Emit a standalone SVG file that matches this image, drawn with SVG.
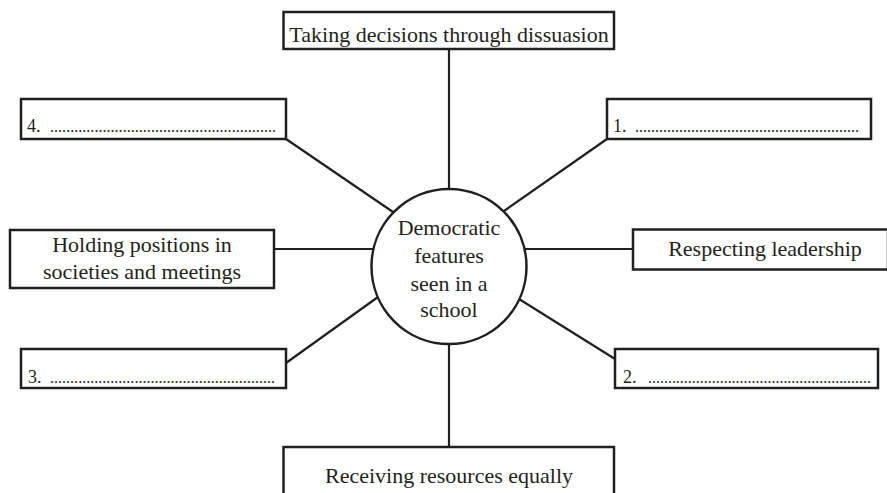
<svg xmlns="http://www.w3.org/2000/svg" width="887" height="493" viewBox="0 0 887 493">
<style>
.box{fill:#fff;stroke:#231f20;stroke-width:2.5}
.ln{stroke:#231f20;stroke-width:2.2;fill:none}
.t{font-family:"Liberation Serif","Times New Roman",serif;font-size:22px;fill:#231f20}
.c{text-anchor:middle}
.n{font-family:"Liberation Serif","Times New Roman",serif;font-size:18px;fill:#231f20}
.d{font-family:"Liberation Serif","Times New Roman",serif;font-size:16px;fill:#231f20}
</style>
<rect width="887" height="493" fill="#fff"/>
<g id="connectors">
<line class="ln" x1="449" y1="49" x2="449" y2="189"/>
<line class="ln" x1="449" y1="344" x2="449" y2="447"/>
<line class="ln" x1="274" y1="249" x2="373" y2="249"/>
<line class="ln" x1="525" y1="249" x2="633" y2="249"/>
<line class="ln" x1="286" y1="139" x2="393" y2="212"/>
<line class="ln" x1="607" y1="139" x2="504" y2="211"/>
<line class="ln" x1="286" y1="363" x2="378" y2="297"/>
<line class="ln" x1="615" y1="359" x2="519" y2="299"/>
</g>
<g id="center">
<circle cx="449" cy="266.5" r="77.5" fill="#fff" stroke="#231f20" stroke-width="2.5"/>
<text class="t c" x="449" y="235">Democratic</text>
<text class="t c" x="449" y="263">features</text>
<text class="t c" x="449" y="291">seen in a</text>
<text class="t c" x="449" y="317">school</text>
</g>
<g id="top">
<rect class="box" x="283.5" y="12" width="330.5" height="37"/>
<text class="t c" x="449" y="42">Taking decisions through dissuasion</text>
</g>
<g id="bottom">
<rect class="box" x="283.5" y="447" width="330.5" height="60"/>
<text class="t c" x="449" y="483">Receiving resources equally</text>
</g>
<g id="left">
<rect class="box" x="10" y="230" width="264" height="58"/>
<text class="t c" x="142" y="252">Holding positions in</text>
<text class="t c" x="142" y="279">societies and meetings</text>
</g>
<g id="right">
<rect class="box" x="633" y="229.5" width="255" height="40"/>
<text class="t c" x="765" y="256">Respecting leadership</text>
</g>
<g id="item4">
<rect class="box" x="21" y="99" width="265" height="40"/>
<text class="n" x="27" y="132">4.</text>
<text class="d" x="50" y="132" textLength="226" lengthAdjust="spacing">........................................................</text>
</g>
<g id="item1">
<rect class="box" x="607" y="99" width="264" height="40"/>
<text class="n" x="613" y="132">1.</text>
<text class="d" x="635" y="132" textLength="224" lengthAdjust="spacing">........................................................</text>
</g>
<g id="item2">
<rect class="box" x="615" y="349" width="263" height="39"/>
<text class="n" x="623" y="383">2.</text>
<text class="d" x="648" y="383" textLength="223" lengthAdjust="spacing">........................................................</text>
</g>
<g id="item3">
<rect class="box" x="21" y="349" width="265" height="39"/>
<text class="n" x="28" y="383">3.</text>
<text class="d" x="50" y="383" textLength="225" lengthAdjust="spacing">........................................................</text>
</g>
</svg>
